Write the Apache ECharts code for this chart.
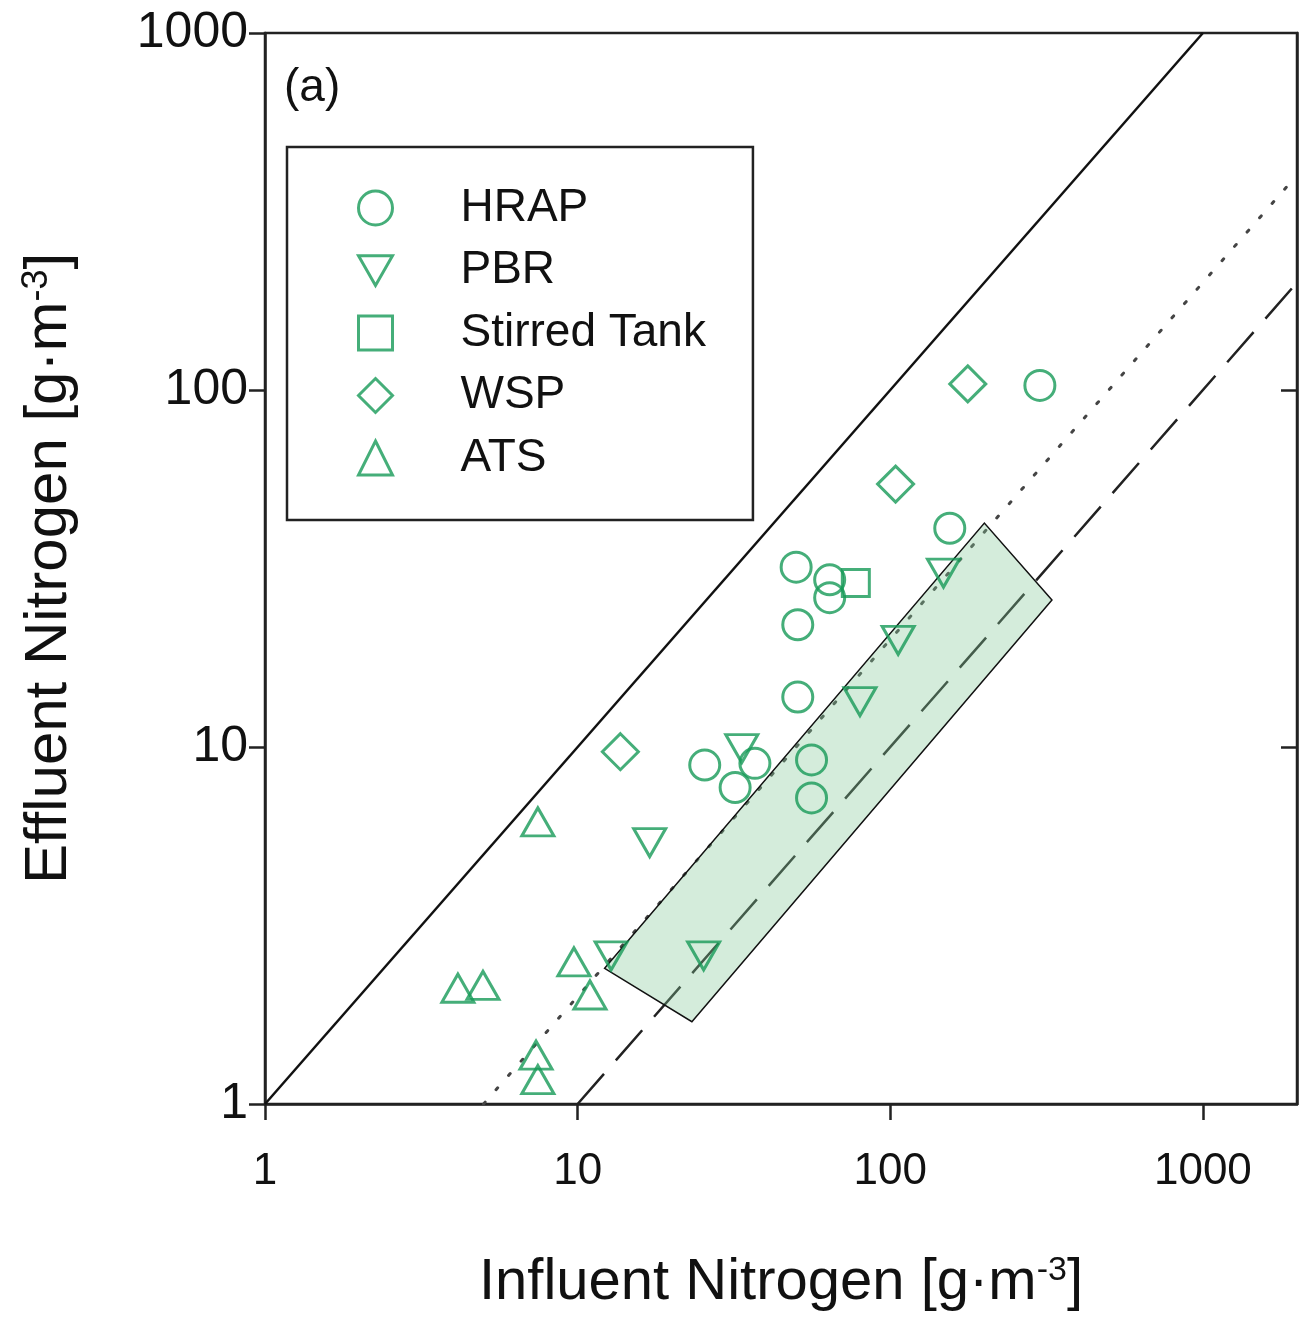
<!DOCTYPE html>
<html>
<head>
<meta charset="utf-8">
<script src="https://cdn.jsdelivr.net/npm/echarts@6/dist/echarts.min.js"></script>
<style>html,body{margin:0;padding:0;background:#fff;}#c{width:1299px;height:1322px;}</style>
</head>
<body>
<div id="c"></div>
<script>
// ---- data (influent, effluent) in g·m^-3 ----
const hrap = [[301,103],[155,41],[50,31.9],[64,29.4],[64,26.2],[50.6,22],[50.6,13.8],[56,9.2],[56,7.2],[25.5,8.9],[31.9,7.7],[36.9,9.0]];
const pbr = [[148,30.7],[106,19.9],[80,13.4],[33.5,9.9],[17,5.4],[12.8,2.6],[25.3,2.6]];
const stirred = [[77.6,28.8]];
const wsp = [[177,104],[104,54.5],[13.7,9.7]];
const ats = [[7.46,6.17],[4.98,2.15],[4.14,2.11],[9.73,2.5],[10.95,2.02],[7.36,1.37],[7.46,1.17]];
const lineOneToOne = [[1,1],[1000,1000]];
const lineDotted = [[5,1],[2000,400]];
const lineDashed = [[10,1],[2000,200]];
const boxCorners = [[12.2,2.4],[200,42.4],[329,25.8],[23.2,1.70]];
const xTicks = [1,10,100,1000];
const yTicks = [1,10,100,1000];
const legendNames = ['HRAP','PBR','Stirred Tank','WSP','ATS'];

const green = '#179a57';
const font = 'Liberation Sans, Arial, sans-serif';
const mstyle = {color:'rgba(0,0,0,0)', borderColor: green, borderWidth: 3};
const plainNum = v => String(Math.round(v));

const chart = echarts.init(document.getElementById('c'), null, {renderer:'canvas'});
chart.setOption({
  animation:false,
  backgroundColor:'#fff',
  title:{text:'(a)', left:279, top:60, textStyle:{fontFamily:font, fontSize:46, fontWeight:'normal', color:'#111'}},
  grid:{left:265, right:2, top:33, bottom:218, show:true, borderColor:'#222', borderWidth:2.5, backgroundColor:'transparent'},
  legend:{
    data: legendNames, orient:'vertical', left:287, top:147,
    padding:[38,47,39,70], itemGap:16.5, itemWidth:34, itemHeight:34,
    borderColor:'#222', borderWidth:2.5, backgroundColor:'#fff',
    itemStyle:{borderWidth:3, borderColor:green, color:'rgba(0,0,0,0)'},
    textStyle:{fontFamily:font, fontSize:46, color:'#111', padding:[0,0,0,63]},
    selectedMode:false
  },
  xAxis:[{
    type:'log', logBase:10, min:1, max:2000, position:'bottom',
    name:'Influent Nitrogen [g·m{sup|-3}]', nameLocation:'middle', nameGap:150,
    nameTextStyle:{fontFamily:font, fontSize:58, color:'#111', rich:{sup:{fontFamily:font, fontSize:34, color:'#111', verticalAlign:'top'}}},
    axisLine:{show:true, onZero:false, lineStyle:{color:'#222', width:2.5}},
    axisTick:{show:true, inside:false, length:16, lineStyle:{color:'#222', width:2.5}, customValues:xTicks},
    axisLabel:{fontFamily:font, fontSize:44, color:'#111', margin:46, customValues:xTicks, formatter:plainNum},
    splitLine:{show:false}, minorTick:{show:false}
  }],
  yAxis:[{
    type:'log', logBase:10, min:1, max:1000, position:'left',
    name:'Effluent Nitrogen [g·m{sup|-3}]', nameLocation:'middle', nameGap:186, nameRotate:90,
    nameTextStyle:{fontFamily:font, fontSize:60, color:'#111', rich:{sup:{fontFamily:font, fontSize:36, color:'#111', verticalAlign:'top'}}},
    axisLine:{show:true, onZero:false, lineStyle:{color:'#222', width:2.5}},
    axisTick:{show:true, inside:false, length:16, lineStyle:{color:'#222', width:2.5}, customValues:yTicks},
    axisLabel:{fontFamily:font, fontSize:50, color:'#111', margin:17, customValues:yTicks, formatter:plainNum},
    splitLine:{show:false}
  },{
    type:'log', logBase:10, min:1, max:1000, position:'right',
    axisLine:{show:true, onZero:false, lineStyle:{color:'#222', width:2.5}},
    axisTick:{show:true, inside:true, length:16, lineStyle:{color:'#222', width:2.5}, customValues:[10,100]},
    axisLabel:{show:false}, splitLine:{show:false}
  }],
  series:[
    {type:'line', data:lineOneToOne, symbol:'none', lineStyle:{color:'#111', width:2.5}, z:2, silent:true},
    {type:'line', data:lineDotted, symbol:'none', lineStyle:{color:'#444', width:3, type:[2.5,16.5], cap:'round'}, z:2, silent:true},
    {type:'line', data:lineDashed, symbol:'none', lineStyle:{color:'#222', width:2.5, type:[40,18]}, z:2, silent:true},
    {type:'custom', z:3, silent:true, data:[0],
      renderItem:function(params, api){
        const pts = boxCorners.map(p => api.coord(p));
        return {type:'polygon', shape:{points:pts}, style:{fill:'rgba(132,201,152,0.35)', stroke:'#111', lineWidth:1.5}};
      }},
    {name:'HRAP', type:'scatter', data:hrap, symbol:'circle', symbolSize:30, itemStyle:mstyle, z:5},
    {name:'PBR', type:'scatter', data:pbr, symbol:'path://M0,0L2,0L1,1.75Z', symbolSize:[32,28], itemStyle:mstyle, z:5},
    {name:'Stirred Tank', type:'scatter', data:stirred, symbol:'rect', symbolSize:27, itemStyle:mstyle, z:5},
    {name:'WSP', type:'scatter', data:wsp, symbol:'diamond', symbolSize:36, itemStyle:mstyle, z:5},
    {name:'ATS', type:'scatter', data:ats, symbol:'triangle', symbolSize:[32,28], itemStyle:mstyle, z:5}
  ]
});
</script>
</body>
</html>
